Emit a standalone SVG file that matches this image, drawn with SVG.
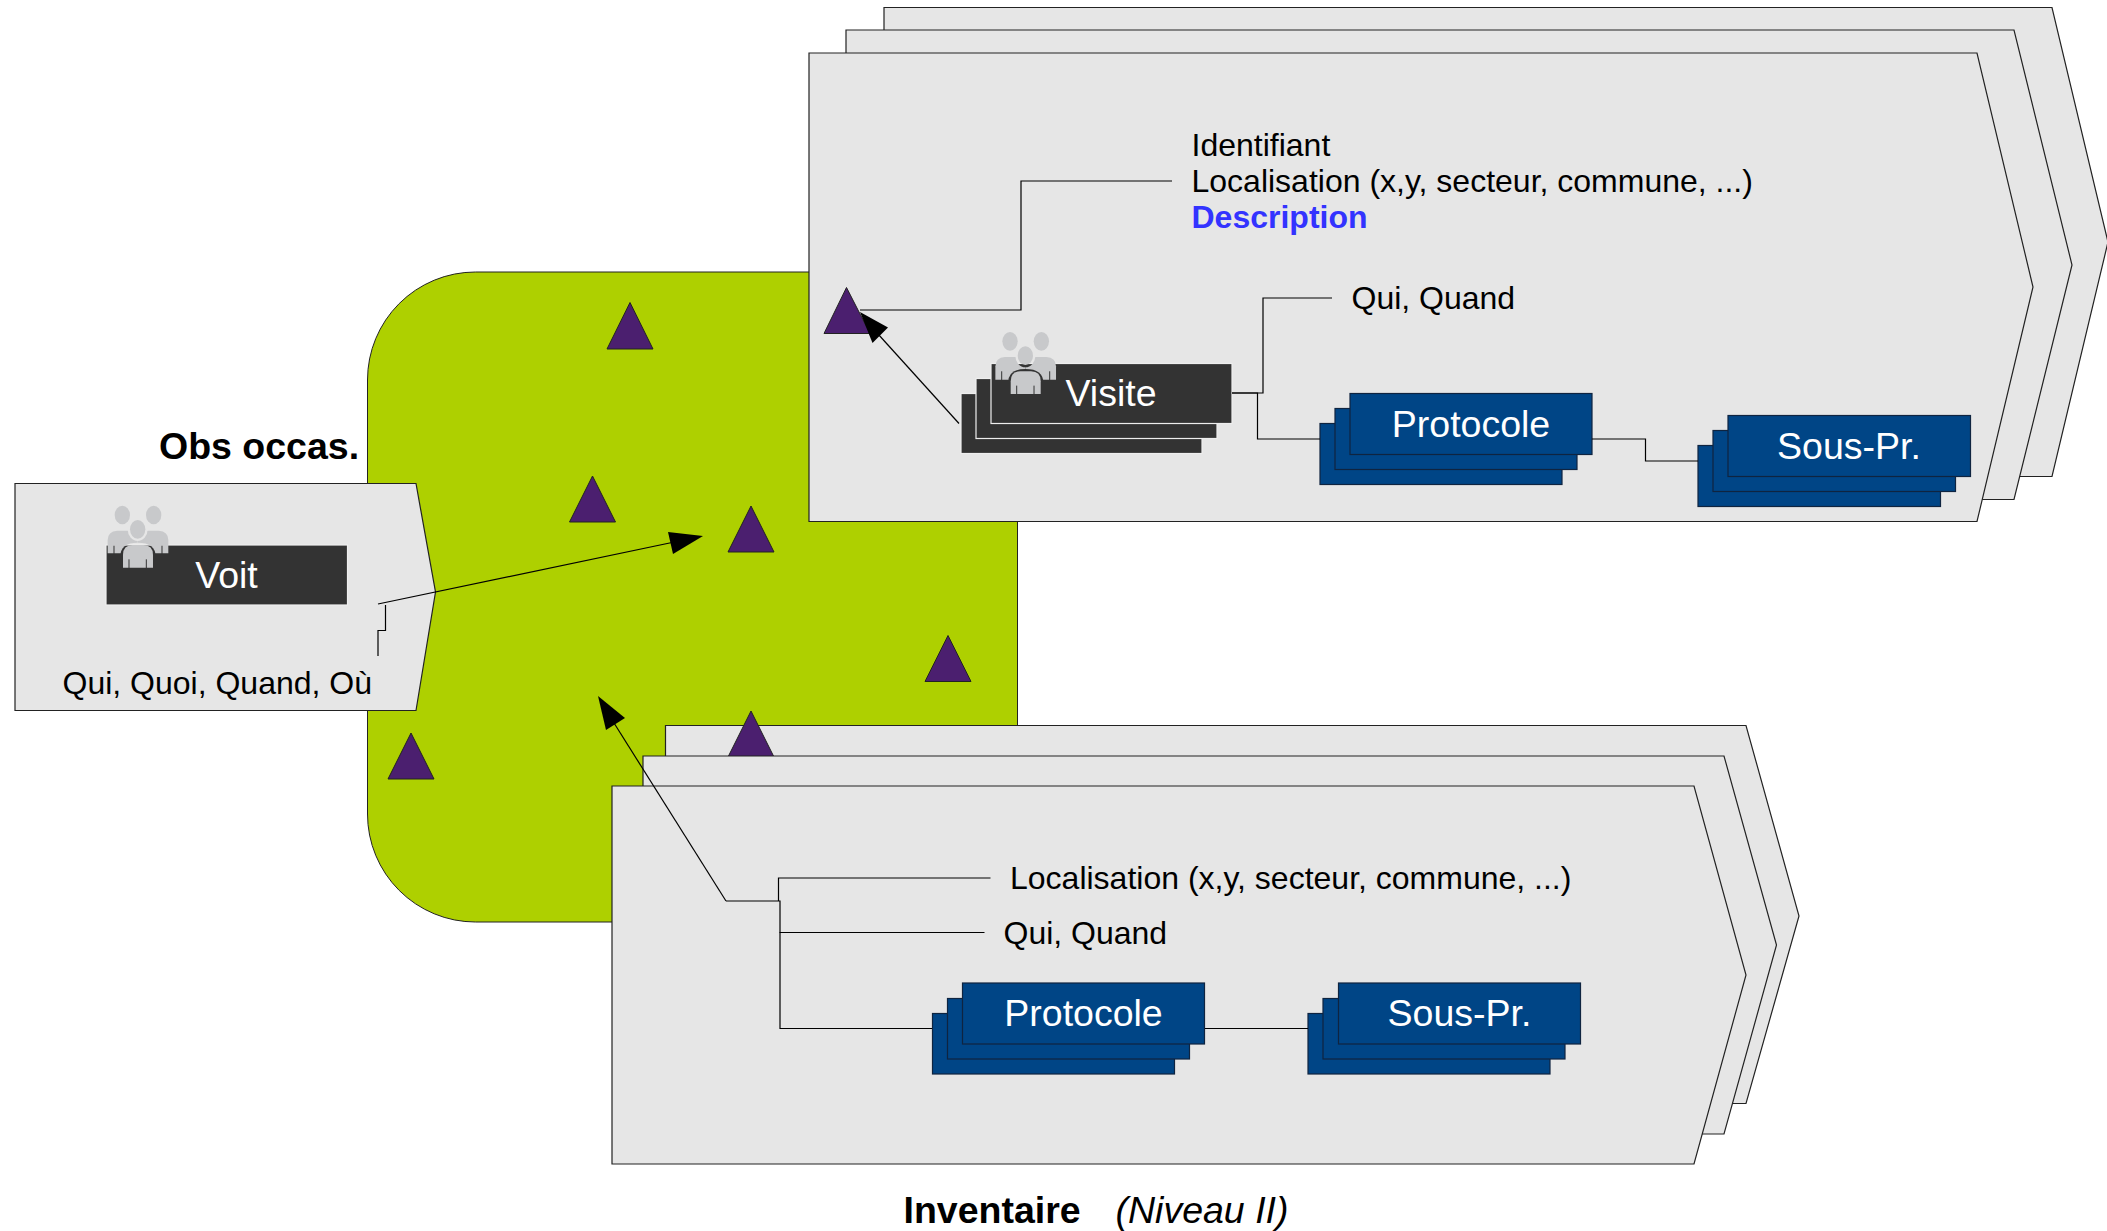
<svg xmlns="http://www.w3.org/2000/svg" xmlns:xlink="http://www.w3.org/1999/xlink" width="2107" height="1231" viewBox="0 0 2107 1231">
<style>
text{font-family:"Liberation Sans",Arial,sans-serif;font-size:32px;fill:#000}
.panel{fill:#e6e6e6;stroke:#222;stroke-width:1.2}
.tri{fill:#4b1f6f;stroke:#222;stroke-width:1}
.dark{fill:#333;stroke:#eee;stroke-width:1.2}
.blue{fill:#004586;stroke:#0f2440;stroke-width:1.2}
.lbl{fill:#fff;font-size:37.500px;text-anchor:middle}
.bold{font-weight:bold;font-size:37.500px}
.wire{fill:none;stroke:#000;stroke-width:1.2}
.head{fill:#000;stroke:none}
</style>
<defs>
<mask id="cutSide" maskUnits="userSpaceOnUse" x="0" y="0" width="300" height="300">
<rect width="300" height="300" fill="#fff"/>
<path d="M91,240V200Q91,158 143,158Q197,158 197,200V240Z" fill="#000"/>
<ellipse cx="143" cy="118" rx="30" ry="35" fill="#000"/>
<path d="M72,165V192M216,165V192" stroke="#000" stroke-width="3"/>
</mask>
<mask id="cutCentre" maskUnits="userSpaceOnUse" x="0" y="0" width="300" height="300">
<rect width="300" height="300" fill="#fff"/>
<path d="M117,208V236M169,208V236" stroke="#000" stroke-width="3"/>
</mask>
<g id="people" fill="#c8c9cb">
<g mask="url(#cutSide)">
<ellipse cx="97" cy="75" rx="23" ry="28"/>
<ellipse cx="191" cy="75" rx="23" ry="28"/>
<path d="M53,190V150Q53,124 82,122H112Q140,124 143,150V190Z"/>
<path d="M143,190V150Q146,124 176,122H206Q235,124 235,150V190Z"/>
</g>
<g mask="url(#cutCentre)">
<ellipse cx="143" cy="118" rx="23" ry="28"/>
<path d="M99,233V195Q99,165 128,165H160Q189,165 189,195V233Z"/>
</g>
</g>
</defs>

<g id="zone"><rect x="367.500" y="272" width="650" height="650" rx="108" fill="#aed000" stroke="#222" stroke-width="1"/></g>
<g id="tri-1"><path class="tri" d="M630,302.500L607,349H653Z"/></g>
<g id="tri-2"><path class="tri" d="M592.500,476L569.500,522H615.500Z"/></g>
<g id="tri-3"><path class="tri" d="M751,506L728,552H774Z"/></g>
<g id="tri-4"><path class="tri" d="M948,635.500L925,681.500H971Z"/></g>
<g id="tri-6"><path class="tri" d="M411,733L388,779H434Z"/></g>

<g id="obs">
<path class="panel" d="M15,483.500H416L435.500,592L416,710.500H15Z"/>
<text class="bold" x="159" y="459">Obs occas.</text>
<rect class="dark" x="106" y="545" width="241.500" height="60"/>
<use href="#people" transform="translate(90,490) scale(.3333)"/>
<text class="lbl" x="226.500" y="588">Voit</text>
<text x="62.500" y="694">Qui, Quoi, Quand, Où</text>
</g>

<g id="visite-back-2"><path class="panel" d="M884,7.500H2052L2108,242L2052,476.500H884Z"/></g>
<g id="visite-back-1"><path class="panel" d="M846,30H2014L2072,265L2014,499.500H846Z"/></g>
<g id="visite-panel">
<path class="panel" d="M809,53H1977L2033,287L1977,521.500H809Z"/>
<text x="1191.500" y="156">Identifiant</text>
<text x="1191.500" y="192">Localisation (x,y, secteur, commune, ...)</text>
<text x="1191.500" y="228" style="fill:#3333ff;font-weight:bold">Description</text>
<text x="1351.500" y="309">Qui, Quand</text>
</g>
<g id="tri-visite"><path class="tri" d="M846.500,287.500L824,333.500H870Z"/></g>
<g id="visite">
<rect class="dark" x="961" y="393.500" width="241" height="60"/>
<rect class="dark" x="976" y="378.500" width="241" height="60"/>
<rect class="dark" x="991" y="363.500" width="241" height="60"/>
<use href="#people" transform="translate(977.700,316.300) scale(.3333)"/>
<text class="lbl" x="1111" y="406">Visite</text>
</g>
<g id="protocole-1">
<rect class="blue" x="1320" y="423.500" width="242" height="61"/>
<rect class="blue" x="1335" y="408.500" width="242" height="61"/>
<rect class="blue" x="1350" y="393.500" width="242" height="61"/>
<text class="lbl" x="1471" y="437">Protocole</text>
</g>
<g id="souspr-1">
<rect class="blue" x="1698" y="445.500" width="242.500" height="61"/>
<rect class="blue" x="1713" y="430.500" width="242.500" height="61"/>
<rect class="blue" x="1728" y="415.500" width="242.500" height="61"/>
<text class="lbl" x="1849" y="459">Sous-Pr.</text>
</g>

<g id="inv-back-2"><path class="panel" d="M665.500,725.500H1746L1799,916L1746,1103.500H665.500Z"/></g>
<g id="tri-5"><path class="tri" d="M751,711L728,757H774Z"/></g>
<g id="inv-back-1"><path class="panel" d="M643,756H1724L1776.500,945L1724,1134H643Z"/></g>
<g id="inv-panel">
<path class="panel" d="M612,786H1694L1746,975L1694,1164H612Z"/>
<text x="1010" y="889">Localisation (x,y, secteur, commune, ...)</text>
<text x="1003.500" y="944">Qui, Quand</text>
<text x="903.500" y="1223" style="font-weight:bold;font-size:37.500px">Inventaire</text>
<text x="1115.500" y="1223" style="font-style:italic;font-size:37.500px">(Niveau II)</text>
</g>
<g id="protocole-2">
<rect class="blue" x="932.500" y="1013.500" width="242" height="60.500"/>
<rect class="blue" x="947.500" y="998.500" width="242" height="60.500"/>
<rect class="blue" x="962.500" y="983" width="242" height="61"/>
<text class="lbl" x="1083.500" y="1026">Protocole</text>
</g>
<g id="souspr-2">
<rect class="blue" x="1308" y="1013.500" width="242" height="60.500"/>
<rect class="blue" x="1323" y="998.500" width="242" height="60.500"/>
<rect class="blue" x="1338.500" y="983" width="242" height="61"/>
<text class="lbl" x="1459.500" y="1026">Sous-Pr.</text>
</g>

<g id="connectors">
<path class="wire" d="M378,604L672,542.500"/>
<path class="head" d="M703,536L668,532L673,554Z"/>
<path class="wire" d="M385.500,605V630.500H378V656"/>
<path class="wire" d="M860,310H1021V181H1172"/>
<path class="wire" d="M1232,393H1263V298H1332"/>
<path class="wire" d="M1232,393H1257.500V439H1320"/>
<path class="wire" d="M1592,439H1645.500V461H1698"/>
<path class="wire" d="M959,423.500L878,334"/>
<path class="head" d="M860,312L888,327.500L872.500,343Z"/>
<path class="wire" d="M726,901L614,723"/>
<path class="head" d="M598,696L625,718L606,730Z"/>
<path class="wire" d="M726,901H780V1028.500H932"/>
<path class="wire" d="M778.500,901V878H990.500"/>
<path class="wire" d="M779.500,932.500H984.500"/>
<path class="wire" d="M1205,1028.500H1308"/>
</g>
</svg>
